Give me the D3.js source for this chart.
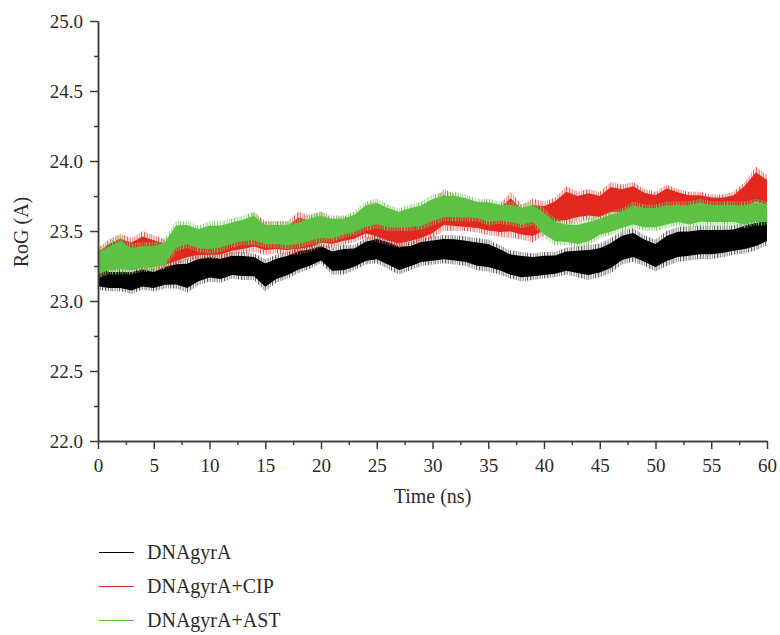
<!DOCTYPE html>
<meta charset="utf-8">
<script src="https://d3js.org/d3.v7.min.js"></script>
<style>
  body { margin: 0; background: #fff; }
  text { font-family: "Liberation Serif", "DejaVu Serif", serif; fill: #2a2a2a; }
</style>
<svg id="chart"></svg>
<script>

// time (ns), one sample per nanosecond
var time = d3.range(0, 61);

// upper / lower edge of each noisy RoG trace
var gyrHi = [23.26,23.23,23.23,23.23,23.25,23.23,23.27,23.29,23.30,23.33,23.34,23.33,23.35,23.35,23.34,23.30,23.33,23.35,23.38,23.39,23.41,
  23.38,23.40,23.40,23.45,23.47,23.45,23.42,23.42,23.45,23.46,23.47,23.47,23.46,23.45,23.44,23.40,23.36,23.35,23.34,23.35,
  23.35,23.38,23.39,23.40,23.41,23.45,23.50,23.52,23.47,23.44,23.50,23.53,23.53,23.54,23.54,23.54,23.54,23.57,23.59,23.60];
var gyrLo = [23.08,23.07,23.07,23.05,23.08,23.07,23.09,23.09,23.06,23.11,23.14,23.13,23.16,23.15,23.15,23.07,23.13,23.16,23.20,23.23,23.27,
  23.19,23.19,23.22,23.26,23.27,23.23,23.19,23.22,23.25,23.26,23.27,23.26,23.25,23.22,23.21,23.19,23.16,23.14,23.15,23.16,
  23.17,23.19,23.17,23.15,23.17,23.20,23.26,23.28,23.25,23.21,23.25,23.28,23.29,23.30,23.30,23.31,23.33,23.34,23.36,23.40];

var cipHi = [23.38,23.44,23.48,23.45,23.50,23.47,23.44,23.44,23.45,23.50,23.52,23.53,23.54,23.57,23.63,23.57,23.57,23.57,23.64,23.61,23.64,
  23.59,23.61,23.59,23.69,23.71,23.63,23.61,23.61,23.64,23.70,23.80,23.76,23.71,23.71,23.71,23.69,23.78,23.69,23.73,23.71,
  23.74,23.82,23.78,23.80,23.78,23.85,23.83,23.85,23.80,23.78,23.83,23.80,23.78,23.78,23.76,23.76,23.78,23.85,23.96,23.90];
var cipLo = [23.16,23.21,23.23,23.22,23.22,23.21,23.23,23.26,23.29,23.30,23.30,23.30,23.33,23.34,23.35,23.33,23.34,23.33,23.33,23.35,23.38,
  23.38,23.40,23.42,23.45,23.42,23.40,23.38,23.40,23.42,23.45,23.50,23.50,23.50,23.49,23.47,23.46,23.45,23.44,23.42,23.47,
  23.54,23.54,23.57,23.58,23.57,23.60,23.60,23.63,23.61,23.61,23.64,23.63,23.61,23.61,23.61,23.60,23.61,23.64,23.67,23.65];

var astHi = [23.38,23.42,23.47,23.41,23.42,23.42,23.45,23.57,23.57,23.54,23.57,23.57,23.59,23.61,23.64,23.57,23.57,23.57,23.59,23.62,23.64,
  23.61,23.61,23.64,23.71,23.73,23.69,23.66,23.69,23.71,23.76,23.78,23.78,23.76,23.73,23.73,23.71,23.71,23.69,23.71,23.66,
  23.59,23.57,23.57,23.59,23.61,23.64,23.66,23.71,23.69,23.69,23.71,23.71,23.71,23.73,23.71,23.71,23.71,23.71,23.73,23.71];
var astLo = [23.16,23.19,23.19,23.19,23.21,23.21,23.23,23.35,23.38,23.35,23.34,23.35,23.38,23.40,23.40,23.38,23.38,23.37,23.38,23.40,23.42,
  23.42,23.45,23.47,23.50,23.52,23.50,23.50,23.50,23.51,23.54,23.57,23.57,23.57,23.57,23.54,23.55,23.54,23.52,23.54,23.45,
  23.40,23.40,23.38,23.40,23.45,23.47,23.50,23.52,23.50,23.50,23.52,23.54,23.52,23.54,23.54,23.54,23.54,23.52,23.54,23.54];

var seriesNames = ["DNAgyrA", "DNAgyrA+CIP", "DNAgyrA+AST"];
var seriesColors = ["#000000", "#e3291f", "#5cc144"];
var fringeColors = ["#4a4a4a", "#e8463c", "#74c95e"];
var xTicks = d3.range(0, 61, 5);
var yTicks = [22.0, 22.5, 23.0, 23.5, 24.0, 24.5, 25.0];

var W = 780, H = 635;
var margin = { top: 21, right: 13, bottom: 194, left: 98 };

var svg = d3.select("#chart").attr("width", W).attr("height", H);

var x = d3.scaleLinear().domain([0, 60]).range([margin.left, W - margin.right]);
var y = d3.scaleLinear().domain([22, 25]).range([H - margin.bottom, margin.top]);

// spiky fringe of each trace: a fill of uneven thin vertical strokes
var defs = svg.append("defs");
var stripes = [[0, 1.0, 0.9], [1.7, 0.6, 0.5], [3.0, 1.3, 0.85], [5.1, 0.5, 0.45], [6.2, 0.9, 0.8],
  [8.3, 1.2, 0.6], [10.0, 0.6, 0.9], [11.6, 1.0, 0.5], [13.4, 0.7, 0.75], [15.0, 1.1, 0.55]];
seriesColors.forEach(function(c, i) {
  var p = defs.append("pattern")
    .attr("id", "fringe" + i)
    .attr("patternUnits", "userSpaceOnUse")
    .attr("width", 17).attr("height", 40)
    .attr("x", i * 5);
  stripes.forEach(function(s) {
    p.append("rect").attr("x", s[0]).attr("y", 0).attr("width", s[1]).attr("height", 40)
      .attr("fill", fringeColors[i]).attr("opacity", s[2]);
  });
});

var bands = [[gyrLo, gyrHi], [cipLo, cipHi], [astLo, astHi]];
var outer = d3.area()
  .x(function(d) { return x(d.t); })
  .y0(function(d) { return y(d.lo); })
  .y1(function(d) { return y(d.hi); });
// dense middle of the trace: central part of the lo..hi range
var core = d3.area()
  .x(function(d) { return x(d.t); })
  .y0(function(d) { return y(d.lo + (d.hi - d.lo) * 0.14); })
  .y1(function(d) { return y(d.hi - (d.hi - d.lo) * 0.14); });

bands.forEach(function(b, i) {
  var pts = time.map(function(t, k) { return { t: t, lo: b[0][k], hi: b[1][k] }; });
  var g = svg.append("g");
  g.append("path").datum(pts).attr("d", outer).attr("fill", "url(#fringe" + i + ")");
  g.append("path").datum(pts).attr("d", core).attr("fill", seriesColors[i]);
});

// axes
var axisColor = "#3c3c3c";
var minorY = d3.range(22.25, 25, 0.5);
var minorX = d3.range(2.5, 60, 5);

svg.append("g").attr("transform", "translate(" + margin.left + ",0)")
  .call(d3.axisLeft(y).tickValues(yTicks).tickFormat(d3.format(".1f")).tickSize(8).tickSizeOuter(0).tickPadding(7));
svg.append("g").attr("transform", "translate(" + margin.left + ",0)")
  .call(d3.axisLeft(y).tickValues(minorY).tickFormat("").tickSize(4).tickSizeOuter(0));

svg.append("g").attr("transform", "translate(0," + (H - margin.bottom) + ")")
  .call(d3.axisBottom(x).tickValues(xTicks).tickSize(8).tickSizeOuter(0).tickPadding(10));
svg.append("g").attr("transform", "translate(0," + (H - margin.bottom) + ")")
  .call(d3.axisBottom(x).tickValues(minorX).tickFormat("").tickSize(4).tickSizeOuter(0));

svg.selectAll(".domain, .tick line").attr("stroke", axisColor).attr("stroke-width", 1.5);
svg.selectAll(".tick text").style("font-size", "19px").attr("fill", "#2a2a2a");

// axis titles
svg.append("text")
  .attr("x", (x(0) + x(60)) / 2).attr("y", 503)
  .attr("text-anchor", "middle").style("font-size", "20px")
  .text("Time (ns)");

svg.append("text")
  .attr("transform", "translate(28,232) rotate(-90)")
  .attr("text-anchor", "middle").style("font-size", "20px")
  .text("RoG (A)");

// legend
var legend = svg.append("g");
seriesNames.forEach(function(name, i) {
  var ly = 552.5 + i * 34;
  legend.append("line")
    .attr("x1", 99).attr("x2", 134).attr("y1", ly).attr("y2", ly)
    .attr("stroke", seriesColors[i]).attr("stroke-width", 1);
  legend.append("text")
    .attr("x", 147).attr("y", ly + 6)
    .style("font-size", "20px")
    .text(name);
});

</script>
